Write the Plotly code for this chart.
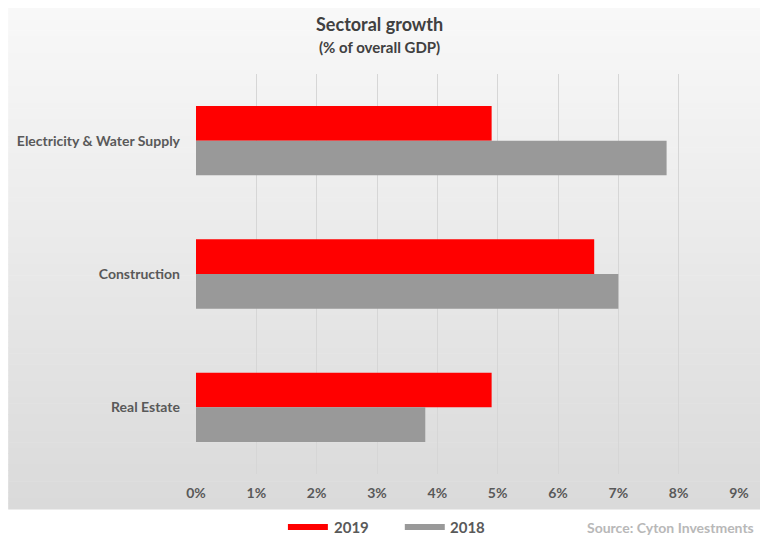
import plotly.graph_objects as go

# Sector shares of overall GDP (%)
sectors = ["Electricity & Water Supply", "Construction", "Real Estate"]
growth_2019 = [4.9, 6.6, 4.9]
growth_2018 = [7.8, 7.0, 3.8]
x_ticks = [0, 1, 2, 3, 4, 5, 6, 7, 8, 9]
x_tick_labels = [f"{v}%" for v in x_ticks]

RED = "#ff0000"
GREY = "#999999"
TEXT = "#595959"
FONT = "Lato"

W, H = 760, 537
PL, PR, PT, PB = 196, 739.5, 74, 474  # plot area in pixels


def px_x(px):
    return (px - PL) / (PR - PL)


def px_y(py):
    return (PB - py) / (PB - PT)


fig = go.Figure()
fig.add_trace(go.Bar(y=sectors, x=growth_2019, orientation="h", name="2019",
                     marker=dict(color=RED, line=dict(width=0))))
fig.add_trace(go.Bar(y=sectors, x=growth_2018, orientation="h", name="2018",
                     marker=dict(color=GREY, line=dict(width=0))))

# Vertical gradient panel behind the chart
shapes = []
top, bottom = 8, 509
n = 90
c_top, c_bot = 248, 218
for i in range(n):
    y0 = top + (bottom - top) * i / n
    y1 = top + (bottom - top) * (i + 1) / n + 0.6
    t = i / (n - 1)
    c = round(c_top + (c_bot - c_top) * t)
    shapes.append(dict(type="rect", xref="paper", yref="paper", layer="below",
                       x0=px_x(8), x1=px_x(762), y0=px_y(y1), y1=px_y(y0),
                       fillcolor=f"rgb({c},{c},{c})", line=dict(width=0)))

# Legend swatches
legend_y = 527
for x0, x1, col in [(288, 328, RED), (405, 445, GREY)]:
    shapes.append(dict(type="rect", xref="paper", yref="paper",
                       x0=px_x(x0), x1=px_x(x1),
                       y0=px_y(legend_y + 3), y1=px_y(legend_y - 3),
                       fillcolor=col, line=dict(width=0)))


def label(text, x, y, size, color, xanchor="center"):
    return dict(text=f"<b>{text}</b>", xref="paper", yref="paper",
                x=px_x(x), y=px_y(y), xanchor=xanchor, yanchor="middle",
                showarrow=False, font=dict(family=FONT, size=size, color=color))


annotations = [
    label("Sectoral growth", 380, 24, 18, "#404040"),
    label("(% of overall GDP)", 380, 47, 15, "#404040"),
    label("2019", 332, legend_y, 15, TEXT, "left"),
    label("2018", 448, legend_y, 15, TEXT, "left"),
    label("Source: Cyton Investments", 757, legend_y, 14, "#b8b8b8", "right"),
]

fig.update_layout(
    width=W, height=H,
    margin=dict(l=PL, r=W - PR, t=PT, b=H - PB, pad=0),
    paper_bgcolor="white",
    plot_bgcolor="rgba(0,0,0,0)",
    barmode="group",
    bargap=0.48,
    bargroupgap=0,
    showlegend=False,
    shapes=shapes,
    annotations=annotations,
    font=dict(family=FONT, color=TEXT),
    xaxis=dict(range=[0, 9], tickvals=x_ticks, ticktext=[f"<b>{t}</b>" for t in x_tick_labels],
               showgrid=True, gridcolor="#d6d6d6", gridwidth=1, zeroline=False,
               showline=False, ticks="", ticklabelstandoff=9,
               tickfont=dict(family=FONT, size=14, color=TEXT)),
    yaxis=dict(autorange="reversed", showgrid=False, zeroline=False, showline=False,
               ticks="", ticklabelstandoff=15,
               tickvals=sectors, ticktext=[f"<b>{s}</b>" for s in sectors],
               tickfont=dict(family=FONT, size=14, color=TEXT)),
)

fig.write_html("out.html")
